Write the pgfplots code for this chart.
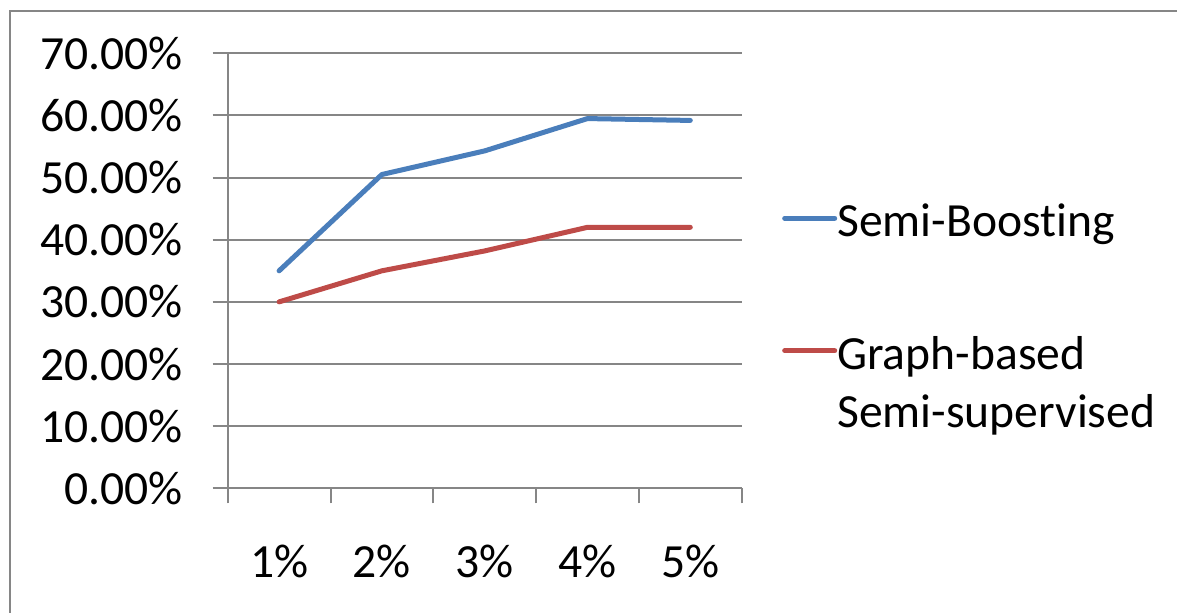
\documentclass[border=0pt]{standalone}
\usepackage{fontspec}
\setmainfont{Carlito}[Ligatures=NoCommon]
\usepackage{pgfplots}
\pgfplotsset{compat=1.18}
\definecolor{gridgray}{HTML}{868686}
\definecolor{sbblue}{HTML}{4A7EBB}
\definecolor{gbred}{HTML}{BE4B48}
\newcommand{\chartfont}{\fontsize{23.8pt}{29pt}\selectfont}

\begin{document}
\begin{tikzpicture}
\useasboundingbox (0,0) rectangle (588.5pt,306pt);
% chart area frame
\draw[gridgray, line width=1pt] (5pt,-3pt) -- (5pt,300.35pt) -- (592pt,300.35pt);
\begin{axis}[
  at={(113.85pt,61.85pt)}, anchor=south west,
  scale only axis, width=257pt, height=217.5pt,
  xmin=0, xmax=5, ymin=0, ymax=70,
  axis lines=left,
  axis line style={-, gridgray, line width=1pt},
  every tick/.style={gridgray, line width=1pt},
  tick align=outside,
  major tick length=7.5pt,
  xtick={0,1,2,3,4,5}, xticklabels={},
  extra x ticks={0.5,1.5,2.5,3.5,4.5},
  extra x tick labels={1\%,2\%,3\%,4\%,5\%},
  extra x tick style={major tick length=0pt, grid=none,
    xticklabel style={anchor=base, yshift=-44.5pt}},
  ytick={0,10,...,70},
  ymajorgrids,
  major grid style={gridgray, line width=1pt},
  tick label style={font=\chartfont, text=black},
  /pgf/number format/assume math mode=true,
  yticklabel={\pgfmathprintnumber[fixed,fixed zerofill,precision=2]{\tick}\%},
  yticklabel style={anchor=east, xshift=-11.5pt},
  legend cell align=left,
  legend image code/.code={\draw[#1, line width=2.5pt, line cap=round] (1.25pt,0pt) -- (26.25pt,0pt);},
  legend style={at={(1.078,0.672)}, anchor=north west, draw=none, fill=none,
    font=\chartfont, inner sep=0pt, row sep=44.5pt, column sep=0pt,
    nodes={inner sep=0pt}},
]
\addplot[sbblue, line width=2.5pt, line cap=round, line join=round]
  coordinates {(0.5,35.0) (1.5,50.5) (2.5,54.3) (3.5,59.5) (4.5,59.2)};
\addlegendentry{\begin{tabular}[t]{@{}l@{}}Semi-Boosting\end{tabular}}
\addplot[gbred, line width=2.5pt, line cap=round, line join=round]
  coordinates {(0.5,30.0) (1.5,35.0) (2.5,38.2) (3.5,42.0) (4.5,42.0)};
\addlegendentry{\begin{tabular}[t]{@{}l@{}}Graph-based\\Semi-supervised\end{tabular}}
\end{axis}
\end{tikzpicture}
\end{document}
